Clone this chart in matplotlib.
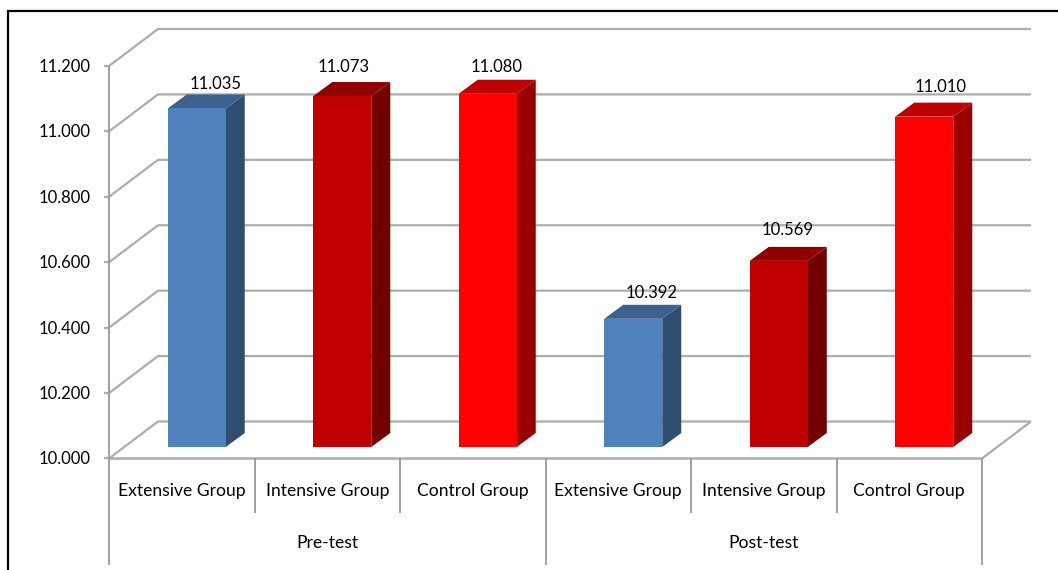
import matplotlib
matplotlib.use('Agg')
import matplotlib.pyplot as plt
from matplotlib.patches import Polygon, Rectangle

plt.rcParams['font.family'] = ['Lato', 'DejaVu Sans']

groups = ['Extensive Group', 'Intensive Group', 'Control Group',
          'Extensive Group', 'Intensive Group', 'Control Group']
phases = ['Pre-test', 'Post-test']
values = [11.035, 11.073, 11.080, 10.392, 10.569, 11.010]
yticks = [10.0, 10.2, 10.4, 10.6, 10.8, 11.0, 11.2]

# hand placed data labels, nudged off the bar (px right of bar centre, px above back edge)
label_dx = [19, 1, 9, 18, 9, 16]
label_dy = [10, 15, 13, 12, 17, 16]

front_colors = ['#4f81bd', '#c00000', '#ff0000'] * 2
top_colors = ['#3c618e', '#900000', '#bf0000'] * 2
side_colors = ['#2f4d71', '#730000', '#990000'] * 2

W, H = 1058, 570
GRID = '#adadad'

fig = plt.figure(figsize=(W / 100, H / 100), dpi=100)
fig.patch.set_facecolor('white')

# chart area, pixel box of the front plane
left, right, top, bottom = 109, 982, 66, 458.5
ax = fig.add_axes([left / W, 1 - bottom / H, (right - left) / W, (bottom - top) / H])
ax.set_xlim(0, 6)
ax.set_ylim(10, 11.2)
ax.axis('off')

# px to data scale for the oblique depth
sx = 6 / (right - left)
sy = 1.2 / (bottom - top)
wall_dx, wall_dy = 49 * sx, 37 * sy
bar_off_x, bar_off_y = 15 * sx, 11.5 * sy
bar_dx, bar_dy = 19 * sx, 14 * sy
bar_w = 58 * sx


def line(xs, ys, **kw):
    ax.plot(xs, ys, color=kw.pop('color', GRID), lw=kw.pop('lw', 1.6), clip_on=False,
            solid_capstyle='butt', **kw)


# back wall gridlines with their slanted run back from the axis
for t in yticks:
    line([0, wall_dx, 6 + wall_dx], [t, t + wall_dy, t + wall_dy], zorder=1)
    line([-5 * sx, 0], [t, t], zorder=1)

# floor edge and axes
line([6, 6 + wall_dx], [10, 10 + wall_dy], zorder=1)
line([0, 6], [10, 10], zorder=1, lw=1.8)
line([0, 0], [10 - 107 * sy, 11.2], zorder=1, lw=1.3, color='#999999')
for i in range(1, 7):
    length = 107 if i % 3 == 0 else 55
    line([i, i], [10, 10 - length * sy], zorder=1, lw=1.3, color='#999999')

# bars drawn as front, top and side faces
for i, v in enumerate(values):
    x0 = i + 0.5 - bar_w / 2 + bar_off_x
    x1 = x0 + bar_w
    y0 = 10 + bar_off_y
    y1 = y0 + (v - 10)
    ax.add_patch(Polygon([(x1, y0), (x1 + bar_dx, y0 + bar_dy), (x1 + bar_dx, y1 + bar_dy), (x1, y1)],
                         facecolor=side_colors[i], edgecolor='none', zorder=3, clip_on=False))
    ax.add_patch(Polygon([(x0, y1), (x0 + bar_dx, y1 + bar_dy), (x1 + bar_dx, y1 + bar_dy), (x1, y1)],
                         facecolor=top_colors[i], edgecolor='none', zorder=3, clip_on=False))
    ax.add_patch(Rectangle((x0, y0), bar_w, v - 10, facecolor=front_colors[i],
                           edgecolor='none', zorder=4, clip_on=False))
    ax.text((x0 + x1) / 2 + label_dx[i] * sx, y1 + bar_dy + label_dy[i] * sy, '%.3f' % v,
            ha='center', va='center', fontsize=12, color='black', zorder=5)

# value axis labels
for t in yticks:
    ax.text(-18 * sx, t - 1 * sy, '%.3f' % t, ha='right', va='center', fontsize=12, color='black')

# two level category labels
for i, g in enumerate(groups):
    ax.text(i + 0.5, 10 - 33 * sy, g, ha='center', va='center', fontsize=12.6, color='black')
for i, p in enumerate(phases):
    ax.text(3 * i + 1.5, 10 - 85 * sy, p, ha='center', va='center', fontsize=12.6, color='black')

# black frame, open at the right and bottom
frame = fig.add_axes([0, 0, 1, 1], zorder=10)
frame.set_xlim(0, W)
frame.set_ylim(H, 0)
frame.axis('off')
frame.patch.set_alpha(0)
frame.plot([8, 8, W], [H, 11, 11], color='black', lw=1.6, solid_joinstyle='miter')

fig.savefig('out.png', dpi=100)
